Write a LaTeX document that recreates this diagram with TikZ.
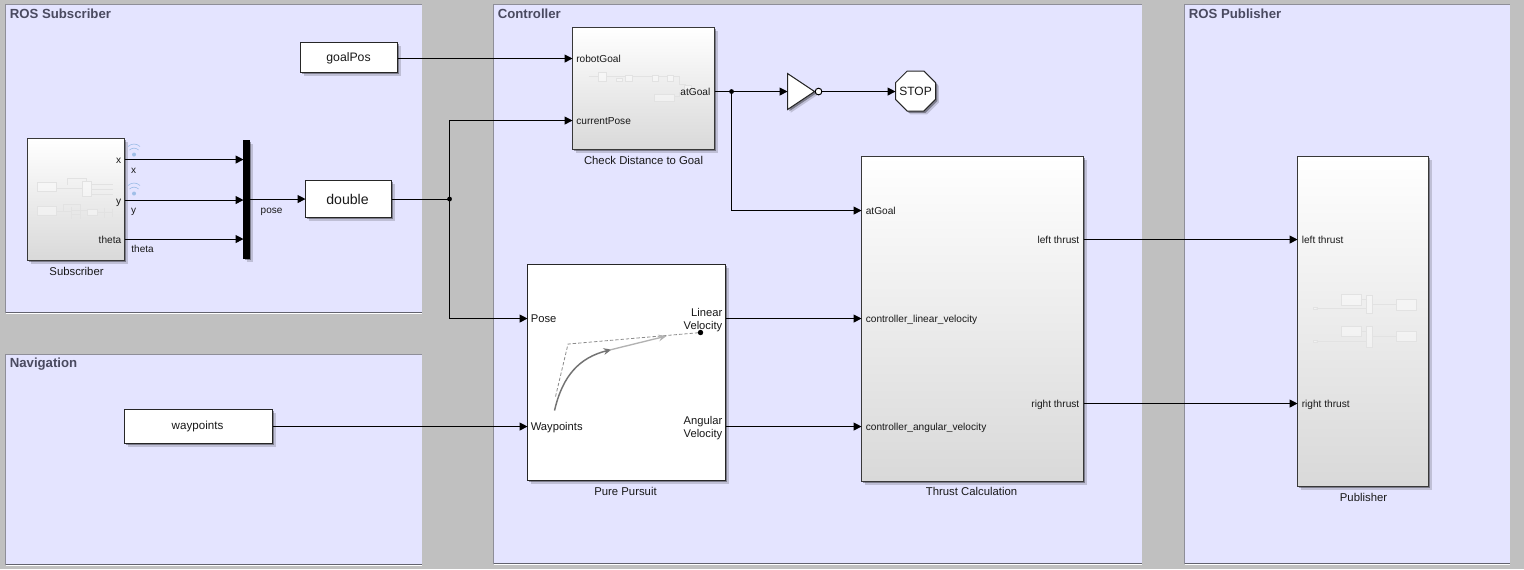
\documentclass[tikz,border=0pt]{standalone}
\usepackage{fontspec}
\setmainfont{Liberation Sans}
\usetikzlibrary{arrows.meta,fit,shadows,shapes.geometric}
\definecolor{bgGray}{HTML}{C0C0C0}
\definecolor{panelFill}{HTML}{E4E4FF}
\definecolor{edgeSide}{HTML}{8E8E98}
\definecolor{edgeBottom}{HTML}{62626E}
\definecolor{titleInk}{HTML}{4A4A60}
\definecolor{ink}{HTML}{181818}
\definecolor{ghost}{HTML}{E2E2E2}
\definecolor{wifi}{HTML}{A0BFE8}
\tikzset{
  panelbox/.style={fill=panelFill,inner sep=0pt,outer sep=0pt},
  paneltitle/.style={font=\bfseries\fontsize{9.9}{12}\selectfont,text=titleInk,anchor=west,inner sep=0pt},
  softshadow/.style={
    drop shadow={shadow xshift=2.4pt,shadow yshift=-2.4pt,opacity=.16,fill=black},
    drop shadow={shadow xshift=1.3pt,shadow yshift=-1.3pt,opacity=.35,fill=black}},
  gradblock/.style={draw=black!78,line width=.75pt,softshadow,top color=white,middle color=white,bottom color=black!15,inner sep=0pt,outer sep=0pt},
  plainblock/.style={draw=black!85,line width=.75pt,softshadow,fill=white,inner sep=0pt,outer sep=0pt},
  muxbar/.style={draw=black,fill=black,softshadow,inner sep=0pt,outer sep=0pt},
  wire/.style={draw=black,line width=.75pt,-{Triangle[length=6pt,width=6pt]}},
  plainwire/.style={draw=black,line width=.75pt},
  junction/.style={circle,fill=black,inner sep=0pt,minimum size=3.6pt},
  portL/.style={font=\fontsize{7.6}{9.5}\selectfont,text=ink,anchor=west,inner sep=0pt,text height=7pt,text depth=1pt},
  portR/.style={font=\fontsize{7.6}{9.5}\selectfont,text=ink,anchor=east,inner sep=0pt,text height=7pt,text depth=1pt},
  caption/.style={font=\fontsize{8.5}{10}\selectfont,text=ink,inner sep=0pt,text height=7pt,text depth=1pt},
  bigport/.style={font=\fontsize{8.4}{10}\selectfont},
  smalllabel/.style={font=\fontsize{7.5}{9}\selectfont},
  ghostline/.style={draw=ghost,line width=.6pt},
  ghostbox/.style={draw=ghost,line width=.6pt,fill=white,fill opacity=.4},
}
\begin{document}
\begin{tikzpicture}[x=0.75pt,y=-0.75pt]
\useasboundingbox (0,0) rectangle (1524,569);
\fill[bgGray] (0,0) rectangle (1524,569);
\begin{scope}[xshift=-.35pt,yshift=.35pt]

% panels
\node[panelbox,fit={(6,5)(422,313)}] (panelSub) {};
\node[panelbox,fit={(6,355)(422,565)}] (panelNav) {};
\node[panelbox,fit={(494,5)(1142,564)}] (panelCtl) {};
\node[panelbox,fit={(1185,5)(1510,564)}] (panelPub) {};
\foreach \pn in {panelSub,panelNav,panelCtl,panelPub}{
  \draw[white,line width=.6pt] ([yshift=-.8pt]\pn.south west) -- ([yshift=-.8pt]\pn.south east);
  \draw[edgeSide,line width=.75pt] (\pn.south west) -- (\pn.north west) -- (\pn.north east);
  \draw[edgeBottom,line width=.75pt] (\pn.south west) -- (\pn.south east);
}
\node[paneltitle] (tSub) at (10,14.5) {ROS Subscriber};
\node[paneltitle] (tNav) at (10,364.5) {Navigation};
\node[paneltitle] (tCtl) at (498,14.5) {Controller};
\node[paneltitle] (tPub) at (1189,14.5) {ROS Publisher};

% blocks
\node[gradblock,fit={(28,139)(125,261)}] (sub) {};
\node[muxbar,fit={(244,141)(250,259)}] (mux) {};
\node[plainblock,fit={(306,181)(392,218)}] (dbl) {};
\node[font=\fontsize{10.6}{12}\selectfont,text=ink,inner sep=0pt] (dblText) at (348,199.5) {double};
\node[plainblock,fit={(301,43)(398,73)}] (goal) {};
\node[caption,font=\fontsize{9.2}{11}\selectfont] (goalText) at (349,58) {goalPos};
\node[gradblock,fit={(573,28)(715,150)}] (check) {};
\node[plainblock,fit={(528,265)(726,481)}] (pursuit) {};
\node[gradblock,fit={(862,157)(1084,482)}] (thrust) {};
\node[gradblock,fit={(1298,157)(1429,487)}] (pub) {};
\node[plainblock,fit={(125,410)(273,444)}] (way) {};
\node[caption,font=\fontsize{8.7}{10}\selectfont] (wayText) at (198,426) {waypoints};

% NOT gate
\node[plainblock,isosceles triangle,isosceles triangle stretches,minimum width=27pt,minimum height=20.25pt,
  inner sep=0pt,anchor=lower side] (notg) at (788,92) {};
\node[circle,draw=black,line width=.75pt,fill=white,inner sep=0pt,minimum size=5pt] (bubble) at (819,92) {};
% STOP
\node[plainblock,regular polygon,regular polygon sides=8,minimum size=32.5pt] (stop) at (916,91.5) {};
\node[font=\fontsize{9}{11}\selectfont,text=ink,inner sep=0pt] (stopText) at (916,92) {STOP};

% ghost contents: subscriber
\draw[ghostbox] (38,183) rectangle (57,192);
\draw[ghostbox] (83,182) rectangle (92,197);
\draw[ghostline] (57,189)--(83,189) (68,185)--(68,179)--(87,179)--(87,182);
\draw[ghostline] (92,185)--(113,185) (92,189.5)--(113,189.5) (92,194.5)--(113,194.5);
\draw[ghostbox] (38,207) rectangle (57,216);
\draw[ghostbox] (88,210) rectangle (98,216);
\draw[ghostline] (57,212)--(72,212) (64,212)--(64,205)--(81,205)--(81,219) (72,207)--(72,219) (72,211)--(88,211) (72,215)--(81,215);
\draw[ghostline] (98,213)--(113,213) (105,208)--(105,218) (113,209)--(113,217);
% ghost contents: check
\draw[ghostline] (589,77)--(599,77) (607,77)--(626,77) (633,77)--(653,77) (659,77)--(668,77) (674,77)--(680,77)--(680,85)--(686,85);
\draw[ghostbox] (599,73) rectangle (607,82);
\draw[ghostbox] (617,79) rectangle (623,82);
\draw[ghostbox] (626,76) rectangle (633,82);
\draw[ghostbox] (653,76) rectangle (659,82);
\draw[ghostbox] (668,76) rectangle (674,82);
\draw[ghostbox] (685,86) rectangle (692,92);
\draw[ghostbox] (655,95) rectangle (675,102);
\draw[ghostline] (675,97)--(680,97)--(680,92);
% ghost contents: publisher
\draw[ghostline] (1316,309)--(1367,309) (1362,300)--(1367,300) (1373,305)--(1397,305);
\draw[ghostline] (1316,342)--(1367,342) (1362,332)--(1367,332) (1373,337)--(1397,337);
\draw[ghostbox] (1342,295) rectangle (1362,306);
\draw[ghostbox] (1367,296) rectangle (1373,314);
\draw[ghostbox] (1397,300) rectangle (1417,311);
\draw[ghostbox] (1342,327) rectangle (1362,337);
\draw[ghostbox] (1367,327) rectangle (1373,348);
\draw[ghostbox] (1397,332) rectangle (1417,342);
\draw[ghostbox] (1314,308) rectangle (1318,310);
\draw[ghostbox] (1314,341) rectangle (1318,343);

% pure pursuit icon
\draw[black!45,line width=.6pt,dash pattern=on 2.5pt off 1.5pt] (556,397)--(568.5,344.5)--(701,333);
\draw[black!55,line width=1.1pt,-{Stealth[open,length=6pt,width=5pt]}] (555,411) .. controls (563,376) and (580,358) .. (612,350);
\draw[black!30,line width=1pt,-{Stealth[length=6pt,width=5pt]}] (610,350.5) -- (667,336.5);
\fill[black] (701,333) circle (2.7);

% wifi icons
\foreach \yy in {150,189}{
  \fill[wifi] (134.5,\yy+5) circle (2);
  \draw[wifi,line width=.5pt] (130,\yy+.5) arc[start angle=225,end angle=315,radius=6.4];
  \draw[wifi,line width=.5pt] (128.5,\yy-3) arc[start angle=225,end angle=315,radius=8.5];
}

% port labels
\node[portR] (pX) at (122,160) {x};
\node[portR] (pY) at (122,200.5) {y};
\node[portR] (pTheta) at (122,239.5) {theta};
\node[portL] (pRobot) at (576.5,59) {robotGoal};
\node[portL] (pCurrent) at (576.5,121) {currentPose};
\node[portR] (pAtOut) at (711,92) {atGoal};
\node[portL] (pAtIn) at (866,211) {atGoal};
\node[portL] (pLinIn) at (866,319) {controller\_linear\_velocity};
\node[portL] (pAngIn) at (866,427) {controller\_angular\_velocity};
\node[portR] (pLeftOut) at (1080,240) {left thrust};
\node[portR] (pRightOut) at (1080,404) {right thrust};
\node[portL] (pLeftIn) at (1302,240) {left thrust};
\node[portL] (pRightIn) at (1302,404) {right thrust};
\node[portL,bigport] (pPose) at (531,319) {Pose};
\node[portL,bigport] (pWay) at (531,427) {Waypoints};
\node[portR,bigport] (pLin1) at (723,313) {Linear};
\node[portR,bigport] (pLin2) at (723,326) {Velocity};
\node[portR,bigport] (pAng1) at (723,420.5) {Angular};
\node[portR,bigport] (pAng2) at (723,434) {Velocity};

% captions
\node[caption] (cSub) at (77,272) {Subscriber};
\node[caption] (cCheck) at (644,161) {Check Distance to Goal};
\node[caption] (cPursuit) at (626,492) {Pure Pursuit};
\node[caption] (cThrust) at (972,492) {Thrust Calculation};
\node[caption] (cPub) at (1364,498) {Publisher};
\node[caption,smalllabel] (lX) at (134,170) {x};
\node[caption,smalllabel] (lY) at (134,210) {y};
\node[caption,smalllabel] (lTheta) at (143,249) {theta};
\node[caption,smalllabel] (lPose) at (272,210) {pose};

% junctions
\node[junction] (j1) at (450,199.5) {};
\node[junction] (j2) at (732,92) {};

% connectors
\draw[wire] (sub.east |- pX) -- (mux.west |- pX);
\draw[wire] (sub.east |- pY) -- (mux.west |- pY);
\draw[wire] (sub.east |- pTheta) -- (mux.west |- pTheta);
\draw[wire] (mux.east |- dbl.west) -- (dbl.west);
\draw[plainwire] (dbl.east) -- (j1.center);
\draw[wire] (j1.center) |- (check.west |- pCurrent);
\draw[wire] (j1.center) |- (pursuit.west |- pPose);
\draw[wire] (goal.east |- pRobot) -- (check.west |- pRobot);
\draw[plainwire] (check.east |- j2.center) -- (j2.center);
\draw[wire] (j2.center) -- (notg.lower side);
\draw[wire] (j2.center) |- (thrust.west |- pAtIn);
\draw[wire] (bubble.east) -- (stop.west |- bubble.east);
\draw[wire] (way.east |- pWay) -- (pursuit.west |- pWay);
\draw[wire] (pursuit.east |- pPose) -- (thrust.west |- pLinIn);
\draw[wire] (pursuit.east |- pWay) -- (thrust.west |- pAngIn);
\draw[wire] (thrust.east |- pLeftOut) -- (pub.west |- pLeftIn);
\draw[wire] (thrust.east |- pRightOut) -- (pub.west |- pRightIn);
\end{scope}
\end{tikzpicture}
\end{document}
